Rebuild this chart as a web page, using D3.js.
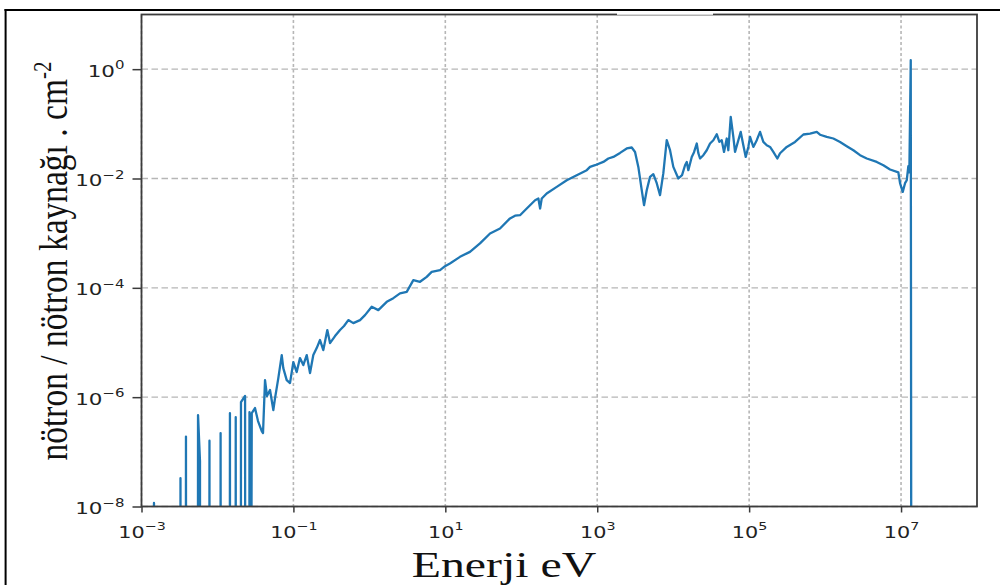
<!DOCTYPE html>
<html>
<head>
<meta charset="utf-8">
<script src="https://cdn.jsdelivr.net/npm/d3@7"></script>
<style>
  body { margin: 0; background: #fff; }
  svg { display: block; }
</style>
</head>
<body>
<svg id="chart" width="1000" height="585"></svg>
<script>
// Neutron flux per source neutron (n / source n . cm^-2) versus energy (eV).
// Thermal region: isolated tallies, zero between them.
const thermalE = [1.0e-3, 1.44e-3, 1.46e-3, 1.48e-3, 3.22e-3, 3.26e-3, 3.30e-3, 3.80e-3, 3.85e-3, 3.90e-3,
  5.48e-3, 5.55e-3, 5.89e-3, 5.96e-3, 7.75e-3, 7.85e-3, 7.95e-3, 1.09e-2, 1.10e-2, 1.115e-2,
  1.44e-2, 1.46e-2, 1.48e-2, 1.72e-2, 1.74e-2, 1.76e-2, 2.02e-2, 2.04e-2, 2.31e-2, 2.34e-2,
  2.61e-2, 2.64e-2, 2.67e-2];
const thermalFlux = [0, 0, 1.16e-8, 0, 0, 3.3e-8, 0, 0, 1.9e-7, 0,
  0, 4.7e-7, 6.8e-8, 0, 0, 1.6e-7, 0, 0, 2.2e-7, 0,
  0, 5.1e-7, 0, 0, 4.3e-7, 0, 0, 8.1e-7, 1.05e-6, 0,
  0, 5.3e-7, 0];

// Epithermal region
const epiE = [2.83e-2, 3.12e-2, 3.42e-2, 3.83e-2, 3.98e-2, 4.23e-2, 4.49e-2, 4.92e-2, 5.44e-2, 5.73e-2,
  6.33e-2, 7.02e-2, 7.36e-2, 8.16e-2, 9.02e-2, 9.97e-2, 0.1105, 0.122, 0.135, 0.1497,
  0.1655, 0.1828, 0.2026, 0.224, 0.2476, 0.2795, 0.3034, 0.353, 0.4109, 0.4638,
  0.5284, 0.6149, 0.7535, 0.8766, 1.074, 1.312, 1.693, 2.068, 2.533, 3.104,
  3.792, 4.645, 5.69, 6.62, 8.52, 9.91, 11.5, 15.6, 21.1, 28.6,
  38.8, 52.5, 71.1, 82.8, 96.3];
const epiFlux = [5.12e-7, 6.33e-7, 3.66e-7, 2.40e-7, 2.21e-7, 2.05e-6, 1.05e-6, 1.35e-6, 5.81e-7, 9.63e-7,
  2.23e-6, 5.89e-6, 3.40e-6, 2.05e-6, 1.81e-6, 4.38e-6, 2.88e-6, 5.19e-6, 3.86e-6, 5.89e-6,
  2.76e-6, 5.89e-6, 7.90e-6, 1.11e-5, 7.26e-6, 1.69e-5, 9.75e-6, 1.31e-5, 1.69e-5, 2.00e-5,
  2.57e-5, 2.26e-5, 2.57e-5, 3.17e-5, 4.50e-5, 3.91e-5, 5.55e-5, 6.48e-5, 7.90e-5, 8.45e-5,
  1.38e-4, 1.29e-4, 1.59e-4, 1.96e-4, 2.11e-4, 2.49e-4, 2.79e-4, 3.69e-4, 4.55e-4, 6.49e-4,
  9.88e-4, 1.22e-3, 1.86e-3, 2.09e-3, 2.13e-3];

// Fast region, up to the 14 MeV source line
const fastE = [118, 152, 168, 177, 186, 216, 293, 397, 537, 728,
  804, 936, 1203, 1401, 1630, 1997, 2447, 2847, 3147, 3477,
  3855, 4133, 4485, 4957, 5479, 6074, 6713, 7420, 8225, 9092,
  10046, 11690, 13085, 14330, 15087, 15831, 17554, 18819, 20429, 21446,
  22580, 24946, 27658, 30564, 33790, 37450, 40510, 43570, 46720, 50720,
  53230, 57240, 61940, 65220, 72080, 77500, 83870, 90200, 97600, 102800,
  113600, 126000, 139200, 153800, 170500, 188500, 208300, 235100, 255300, 312700,
  402200, 517300, 633900, 776500, 858200, 1.051e6, 1.285e6, 1.574e6, 1.928e6, 2.356e6,
  2.886e6, 3.536e6, 4.787e6, 5.848e6, 7.165e6, 9.216e6, 9.70e6, 1.053e7, 1.129e7, 1.189e7,
  1.248e7, 1.286e7, 1.342e7, 1.387e7, 2.0e7];
const fastFlux = [2.83e-3, 4.01e-3, 4.31e-3, 2.83e-3, 4.31e-3, 5.32e-3, 7.03e-3, 9.31e-3, 1.15e-2, 1.42e-2,
  1.63e-2, 1.75e-2, 2.01e-2, 2.32e-2, 2.48e-2, 2.94e-2, 3.54e-2, 3.69e-2, 3.06e-2, 1.63e-2,
  6.11e-3, 3.25e-3, 6.11e-3, 1.07e-2, 1.20e-2, 8.21e-3, 4.95e-3, 1.25e-2, 5.02e-2, 3.29e-2,
  1.63e-2, 1.00e-2, 1.15e-2, 1.75e-2, 2.01e-2, 1.42e-2, 2.48e-2, 3.03e-2, 4.37e-2, 2.90e-2,
  2.32e-2, 2.67e-2, 3.29e-2, 4.37e-2, 5.02e-2, 6.46e-2, 4.67e-2, 5.02e-2, 3.06e-2, 5.39e-2,
  3.29e-2, 0.1338, 5.76e-2, 3.06e-2, 5.02e-2, 7.11e-2, 4.06e-2, 2.48e-2, 3.78e-2, 5.76e-2,
  3.78e-2, 5.02e-2, 7.11e-2, 4.67e-2, 4.06e-2, 3.78e-2, 3.06e-2, 2.32e-2, 2.90e-2, 3.78e-2,
  4.67e-2, 6.38e-2, 6.65e-2, 7.11e-2, 6.32e-2, 5.76e-2, 5.39e-2, 4.67e-2, 3.90e-2, 3.29e-2,
  2.67e-2, 2.32e-2, 2.01e-2, 1.75e-2, 1.46e-2, 1.29e-2, 8.21e-3, 5.69e-3, 8.21e-3, 9.31e-3,
  1.68e-2, 1.29e-2, 1.455, 0, 0];

const xTicks = [1e-3, 1e-1, 1e1, 1e3, 1e5, 1e7];
const yTicks = [1e-8, 1e-6, 1e-4, 1e-2, 1e0];
const xTitle = "Enerji eV";
const yTitle = "nötron / nötron kaynağı . cm";
const yTitleSup = "-2";

const W = 1000, H = 585;
const box = { left: 141.5, right: 977, top: 14.5, bottom: 506.5 };

const x = d3.scaleLog().domain([1e-3, 1e8]).range([box.left, box.right]);
const y = d3.scaleLog().domain([1e-8, 1e1]).range([box.bottom, box.top]);

const svg = d3.select("#chart");
svg.append("rect").attr("width", W).attr("height", H).attr("fill", "#fff");

svg.append("defs").append("clipPath").attr("id", "plot-clip")
  .append("rect")
  .attr("x", box.left).attr("y", box.top)
  .attr("width", box.right - box.left).attr("height", box.bottom - box.top);

// grid
const grid = svg.append("g");
grid.selectAll("line.gh").data(yTicks).join("line").attr("class", "gh")
  .attr("x1", box.left).attr("x2", box.right)
  .attr("y1", d => y(d)).attr("y2", d => y(d))
  .attr("stroke", "#b6b6b6").attr("stroke-width", 1.4)
  .attr("stroke-dasharray", "6.5,3.5");
grid.selectAll("line.gv").data(xTicks).join("line").attr("class", "gv")
  .attr("x1", d => x(d)).attr("x2", d => x(d))
  .attr("y1", box.top).attr("y2", box.bottom)
  .attr("stroke", "#b6b6b6").attr("stroke-width", 1.6)
  .attr("stroke-dasharray", "3,2.5");

// spectrum
const points = [];
thermalE.forEach((e, i) => points.push({ e, f: thermalFlux[i] }));
epiE.forEach((e, i) => points.push({ e, f: epiFlux[i] }));
fastE.forEach((e, i) => points.push({ e, f: fastFlux[i] }));

const line = d3.line()
  .x(d => x(d.e))
  .y(d => y(Math.max(d.f, 1e-20)));   // zero tallies fall below the axis

svg.append("path")
  .datum(points)
  .attr("clip-path", "url(#plot-clip)")
  .attr("d", line)
  .attr("fill", "none")
  .attr("stroke", "#1f77b4")
  .attr("stroke-width", 2.3)
  .attr("stroke-linejoin", "round");

// axes
function expo(d) {
  const p = Math.round(Math.log10(d));
  return (p < 0 ? "\u2212" : "") + Math.abs(p);
}

const xAxis = svg.append("g")
  .attr("transform", `translate(0,${box.bottom})`)
  .call(d3.axisBottom(x).tickValues(xTicks).tickSize(6).tickSizeOuter(0).tickFormat(() => ""));
xAxis.select(".domain").remove();
xAxis.selectAll(".tick line").attr("stroke", "#3a3a3a").attr("stroke-width", 1.5);
xAxis.selectAll(".tick text").remove();
xAxis.selectAll(".tick").append("text")
  .attr("transform", "scale(1.3,1)")
  .attr("y", 31.5)
  .attr("text-anchor", "middle")
  .attr("fill", "#222")
  .style("font-family", "'DejaVu Sans'")
  .style("font-size", "16px")
  .each(function (d) {
    const t = d3.select(this);
    t.append("tspan").text("10");
    t.append("tspan").attr("dy", -7.5).style("font-size", "11px").text(expo(d));
  });

const yAxis = svg.append("g")
  .attr("transform", `translate(${box.left},0)`)
  .call(d3.axisLeft(y).tickValues(yTicks).tickSize(9).tickSizeOuter(0).tickFormat(() => ""));
yAxis.select(".domain").remove();
yAxis.selectAll(".tick line").attr("stroke", "#3a3a3a").attr("stroke-width", 1.5);
yAxis.selectAll(".tick text").remove();
yAxis.selectAll(".tick").append("text")
  .attr("transform", "scale(1.3,1)")
  .attr("x", -17 / 1.3)
  .attr("y", 7)
  .attr("text-anchor", "end")
  .attr("fill", "#222")
  .style("font-family", "'DejaVu Sans'")
  .style("font-size", "16.5px")
  .each(function (d) {
    const t = d3.select(this);
    t.append("tspan").text("10");
    t.append("tspan").attr("dy", -7.5).style("font-size", "11.5px").text(expo(d));
  });

// spines
svg.append("rect")
  .attr("x", box.left).attr("y", box.top)
  .attr("width", box.right - box.left).attr("height", box.bottom - box.top)
  .attr("fill", "none").attr("stroke", "#3c3c3c").attr("stroke-width", 1.8);
svg.append("rect")
  .attr("x", 617).attr("y", 12.5).attr("width", 96).attr("height", 2.3)
  .attr("fill", "#fff");

// titles
svg.append("text")
  .attr("transform", "translate(504,577) scale(1.33,1)")
  .attr("text-anchor", "middle")
  .attr("fill", "#111")
  .style("font-family", "'Liberation Serif'")
  .style("font-size", "36px")
  .text(xTitle);

const yt = svg.append("text")
  .attr("transform", "translate(67,261) rotate(-90) scale(1,1.2)")
  .attr("text-anchor", "middle")
  .attr("fill", "#111")
  .style("font-family", "'Liberation Serif'")
  .style("font-size", "33.5px");
yt.append("tspan").text(yTitle);
yt.append("tspan").attr("dy", -13).style("font-size", "21px").text(yTitleSup);

// outer frame
svg.append("line").attr("x1", 4.5).attr("x2", W).attr("y1", 10).attr("y2", 10)
  .attr("stroke", "#000").attr("stroke-width", 2.2);
svg.append("line").attr("x1", 5.6).attr("x2", 5.6).attr("y1", 9).attr("y2", H)
  .attr("stroke", "#000").attr("stroke-width", 2);
</script>
</body>
</html>
